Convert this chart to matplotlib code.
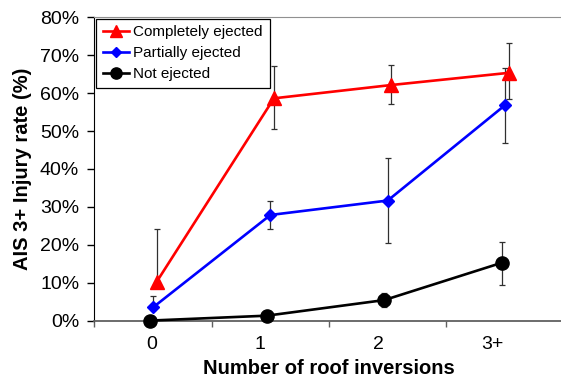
import numpy as np
import matplotlib
matplotlib.use("Agg")
import matplotlib.pyplot as plt

# ---------------------------------------------------------------------------
# Data
# ---------------------------------------------------------------------------
categories = ["0", "1", "2", "3+"]
label_pos = [-0.01, 0.91, 1.92, 2.89]     # where the category labels sit

complete = [10.3, 58.6, 62.1, 65.3]
complete_lo = [9.0, 50.4, 57.1, 58.3]
complete_hi = [24.2, 67.2, 67.5, 73.1]

partial = [3.6, 27.9, 31.7, 56.8]
partial_lo = [3.0, 24.2, 20.6, 46.8]
partial_hi = [6.7, 31.7, 43.0, 66.7]

notej = [0.1, 1.4, 5.5, 15.3]
notej_lo = [0.1, 1.2, 3.6, 9.5]
notej_hi = [0.1, 1.6, 7.3, 20.9]

series = [
    ("Completely ejected", complete, complete_lo, complete_hi, "#ff0000", "^", 9.5, 0.03),
    ("Partially ejected", partial, partial_lo, partial_hi, "#0000ff", "D", 6.5, 0.0),
    ("Not ejected", notej, notej_lo, notej_hi, "#000000", "o", 9.5, -0.03),
]

plt.rcParams["font.family"] = ["Liberation Sans", "DejaVu Sans"]

fig = plt.figure(figsize=(5.61, 3.83), dpi=100)
ax = fig.add_axes([0.1684, 0.1619, 0.8364, 0.7937])

x = np.arange(len(categories))
for name, vals, lo, hi, col, mk, ms, off in series:
    vals = np.array(vals); lo = np.array(lo); hi = np.array(hi)
    ax.errorbar(x + off, vals, yerr=[vals - lo, hi - vals], fmt="none",
                ecolor="#303030", elinewidth=0.9, capsize=2.5, capthick=0.9, zorder=2)
    ax.plot(x + off, vals, color=col, lw=1.9, marker=mk, ms=ms,
            label=name, zorder=3, clip_on=False)

ax.set_xlim(-0.5, 3.5)
ax.set_ylim(0, 80)
ax.set_yticks(np.arange(0, 81, 10))
ax.set_yticklabels([f"{v}%" for v in range(0, 81, 10)], fontsize=14)
ax.set_xticks(np.arange(-0.5, 3.6, 1.0))
ax.set_xticklabels([])
ax.set_xticks(label_pos, minor=True)
ax.set_xticklabels(categories, minor=True, fontsize=14)
ax.tick_params(axis="x", which="major", length=4, width=1, color="#606060", direction="out")
ax.tick_params(axis="x", which="minor", length=0, pad=11)
ax.tick_params(axis="y", length=5, width=1, direction="out", pad=6)

ax.spines["left"].set_color("black")
ax.spines["bottom"].set_color("#606060")
ax.spines["bottom"].set_linewidth(1.3)
ax.spines["top"].set_color("#909090")
ax.spines["right"].set_visible(False)

ax.set_xlabel("Number of roof inversions", fontsize=14.5, fontweight="bold", labelpad=4)
ax.set_ylabel("AIS 3+ Injury rate (%)", fontsize=14.5, fontweight="bold", labelpad=6)

leg = ax.legend(loc="upper left", bbox_to_anchor=(0.0, 1.0), fontsize=11,
                frameon=True, fancybox=False, edgecolor="black", framealpha=1,
                handlelength=1.7, handletextpad=0.3, borderpad=0.45,
                labelspacing=0.45, borderaxespad=0.1, markerscale=0.85)
leg.get_frame().set_linewidth(0.9)

fig.savefig("out.png", dpi=100)
